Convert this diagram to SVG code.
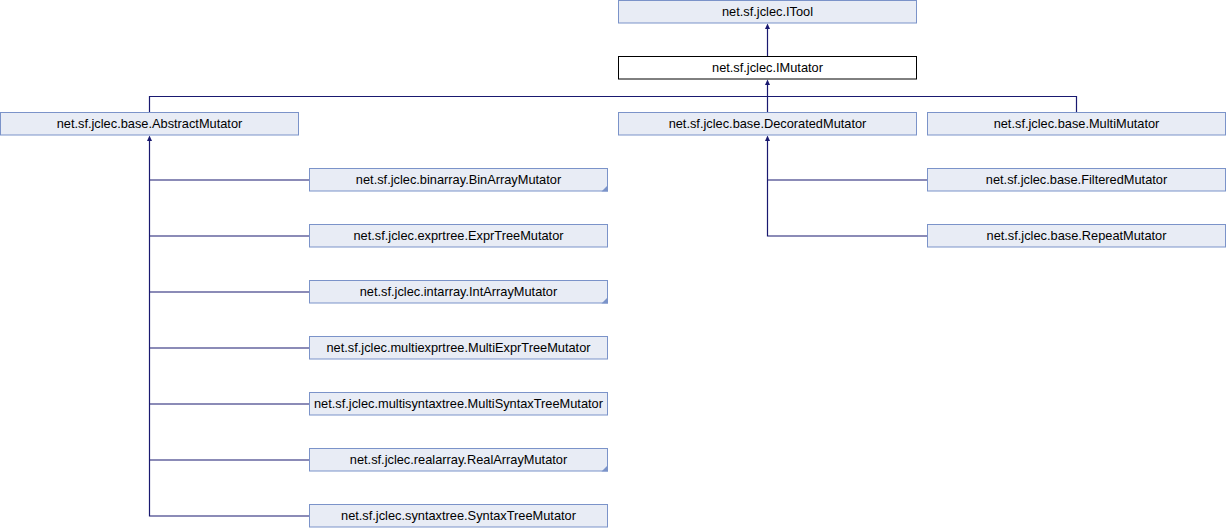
<svg xmlns="http://www.w3.org/2000/svg" width="1226" height="528" viewBox="0 0 1226 528">
<defs>
<style>
.box{fill:#e8ecf5;stroke:#7b93c9;stroke-width:1}
.cur{fill:#ffffff;stroke:#000000;stroke-width:1}
.fold{fill:#7b93c9}
text{font-family:"Liberation Sans",Arial,sans-serif;font-size:12.8px;fill:#000000;text-anchor:middle}
.edge{fill:none;stroke:#191970;stroke-width:1.2}
.ah{fill:#191970}
</style>
</defs>
<rect width="1226" height="528" fill="#ffffff"/>
<g id="edges">
<path class="edge" d="M767.5,56.5V27"/>
<polygon class="ah" points="767.5,23.5 770,29 765,29"/>
<path class="edge" d="M149.5,112.5V96.5H1076.5V112.5M767.5,112.5V83"/>
<polygon class="ah" points="767.5,79.5 770,85 765,85"/>
<path class="edge" d="M149.5,139V516H309.5M149.5,180H309.5M149.5,236H309.5M149.5,292H309.5M149.5,348H309.5M149.5,404H309.5M149.5,460H309.5"/>
<polygon class="ah" points="149.5,135.5 152,141 147,141"/>
<path class="edge" d="M767.5,139V236H927.5M767.5,180H927.5"/>
<polygon class="ah" points="767.5,135.5 770,141 765,141"/>
</g>
<g id="ITool"><rect class="box" x="618.5" y="0.5" width="298" height="22.5"/><text x="767.5" y="16.3">net.sf.jclec.ITool</text></g>
<g id="IMutator"><rect class="cur" x="618.5" y="56.5" width="298" height="22.5"/><text x="767.5" y="72.3">net.sf.jclec.IMutator</text></g>
<g id="AbstractMutator"><rect class="box" x="0.5" y="112.5" width="298" height="22.5"/><text x="149.5" y="128.3">net.sf.jclec.base.AbstractMutator</text></g>
<g id="DecoratedMutator"><rect class="box" x="618.5" y="112.5" width="298" height="22.5"/><text x="767.5" y="128.3">net.sf.jclec.base.DecoratedMutator</text></g>
<g id="MultiMutator"><rect class="box" x="927.5" y="112.5" width="298" height="22.5"/><text x="1076.5" y="128.3">net.sf.jclec.base.MultiMutator</text></g>
<g id="FilteredMutator"><rect class="box" x="927.5" y="168.5" width="298" height="22.5"/><text x="1076.5" y="184.3">net.sf.jclec.base.FilteredMutator</text></g>
<g id="RepeatMutator"><rect class="box" x="927.5" y="224.5" width="298" height="22.5"/><text x="1076.5" y="240.3">net.sf.jclec.base.RepeatMutator</text></g>
<g id="BinArrayMutator"><rect class="box" x="309.5" y="168.5" width="298" height="22.5"/><polygon class="fold" points="608,185 608,191.5 601.5,191.5"/><text x="458.5" y="184.3">net.sf.jclec.binarray.BinArrayMutator</text></g>
<g id="ExprTreeMutator"><rect class="box" x="309.5" y="224.5" width="298" height="22.5"/><text x="458.5" y="240.3">net.sf.jclec.exprtree.ExprTreeMutator</text></g>
<g id="IntArrayMutator"><rect class="box" x="309.5" y="280.5" width="298" height="22.5"/><polygon class="fold" points="608,297 608,303.5 601.5,303.5"/><text x="458.5" y="296.3">net.sf.jclec.intarray.IntArrayMutator</text></g>
<g id="MultiExprTreeMutator"><rect class="box" x="309.5" y="336.5" width="298" height="22.5"/><text x="458.5" y="352.3">net.sf.jclec.multiexprtree.MultiExprTreeMutator</text></g>
<g id="MultiSyntaxTreeMutator"><rect class="box" x="309.5" y="392.5" width="298" height="22.5"/><text x="458.5" y="408.3">net.sf.jclec.multisyntaxtree.MultiSyntaxTreeMutator</text></g>
<g id="RealArrayMutator"><rect class="box" x="309.5" y="448.5" width="298" height="22.5"/><polygon class="fold" points="608,465 608,471.5 601.5,471.5"/><text x="458.5" y="464.3">net.sf.jclec.realarray.RealArrayMutator</text></g>
<g id="SyntaxTreeMutator"><rect class="box" x="309.5" y="504.5" width="298" height="22.5"/><text x="458.5" y="520.3">net.sf.jclec.syntaxtree.SyntaxTreeMutator</text></g>
</svg>
